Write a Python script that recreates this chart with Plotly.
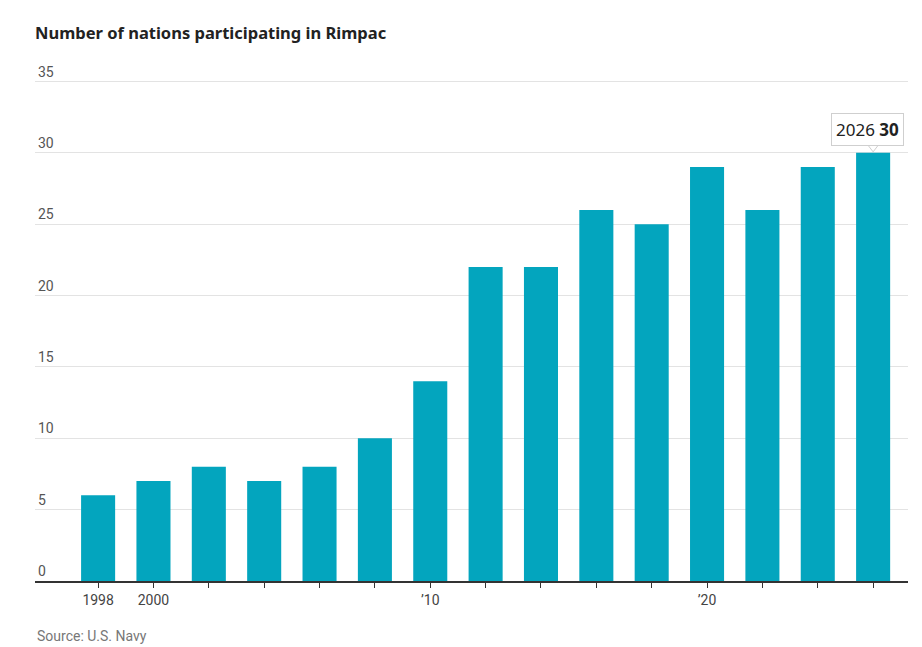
import plotly.graph_objects as go

# Rimpac participation, by exercise year
years = [1998, 2000, 2002, 2004, 2006, 2008, 2010, 2012, 2014, 2016, 2018, 2020, 2022, 2024, 2026]
nations = [6, 7, 8, 7, 8, 10, 14, 22, 22, 26, 25, 29, 26, 29, 30]
year_labels = ['1998', '2000', '', '', '', '', "\u201910", '', '', '', '', "\u201920", '', '', '']
y_ticks = [0, 5, 10, 15, 20, 25, 30, 35]

bar_color = '#03a5be'

fig = go.Figure()

fig.add_trace(go.Bar(
    x=years,
    y=nations,
    marker=dict(color=bar_color, line=dict(width=0)),
    hoverinfo='skip',
))

# little pointer under the callout box
fig.add_trace(go.Scatter(
    x=[years[-1]],
    y=[nations[-1] + 0.45],
    mode='markers',
    marker=dict(symbol='triangle-down', size=11, color='white',
                line=dict(color='#cfcfcf', width=1)),
    hoverinfo='skip',
))

# callout for the latest year
fig.add_annotation(
    x=years[-1], y=nations[-1],
    text=f"{years[-1]} <b>{nations[-1]}</b>",
    showarrow=False,
    xanchor='center', yanchor='bottom',
    xshift=-6, yshift=7,
    font=dict(family='Noto Sans', size=17, color='#222222'),
    bgcolor='white', bordercolor='#cfcfcf', borderwidth=1, borderpad=4,
)

# source line
fig.add_annotation(
    x=0, y=0, xref='paper', yref='paper',
    text='Source: U.S. Navy',
    showarrow=False, xanchor='left', yanchor='middle', yshift=-55,
    font=dict(family='Roboto', size=14, color='#777777'),
)

fig.update_layout(
    width=922, height=647,
    paper_bgcolor='white', plot_bgcolor='white',
    margin=dict(l=35, r=14, t=60, b=66),
    showlegend=False,
    bargap=0.385,
    title=dict(
        text='<b>Number of nations participating in Rimpac</b>',
        x=35 / 922, xanchor='left', xref='container',
        y=1 - 33 / 647, yanchor='middle', yref='container',
        font=dict(family='Noto Sans', size=16.5, color='#222222'),
    ),
)

fig.update_xaxes(
    range=[1995.72, 2027.26],
    tickmode='array', tickvals=years, ticktext=year_labels,
    ticks='outside', ticklen=5, tickcolor='#333333', tickwidth=1,
    showline=True, linecolor='#333333', linewidth=1.5,
    showgrid=False, zeroline=False,
    tickfont=dict(family='Roboto', size=14, color='#444444'),
)

fig.update_yaxes(
    range=[0, 36.5],
    tickmode='array', tickvals=y_ticks,
    ticklabelposition='inside top',
    showgrid=True, gridcolor='#e3e3e3', gridwidth=1,
    zeroline=False, showline=False, ticks='',
    tickfont=dict(family='Roboto', size=14, color='#555555'),
)

# drop the page's default body margin so the chart sits at the window corner
fig.write_html("out.html", config={'displayModeBar': False},
               post_script="document.body.style.margin='0';")
